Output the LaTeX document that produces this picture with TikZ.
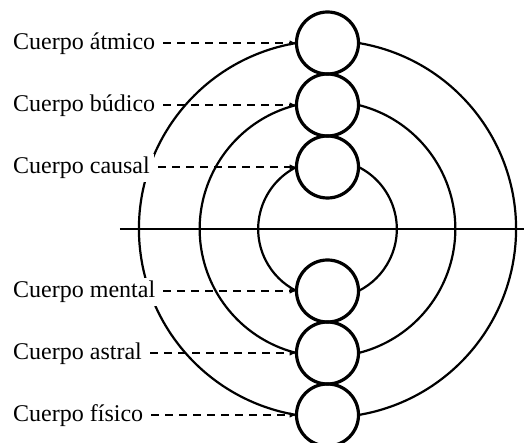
\documentclass[tikz,border=0pt]{standalone}
\usepackage{fontspec}
\setmainfont{Liberation Serif}
\usetikzlibrary{arrows.meta,positioning,calc}

\begin{document}
\begin{tikzpicture}[x=1pt,y=1pt,>={Latex[length=7pt,width=5.5pt]},
          ring/.style={draw,circle,line width=3.2pt,minimum size=62pt,
                       inner sep=0pt,outer sep=0pt},
          body/.style={fill=white,inner xsep=4pt,inner ysep=3pt,anchor=base west,
                       font=\fontsize{24}{26}\selectfont},
          leader/.style={->,line width=1.6pt,dash pattern=on 8pt off 6pt,
                         shorten <=4pt},
          orbit/.style={line width=2.2pt}]
        \useasboundingbox (-327.5,-214) rectangle (196.5,229);
        \node[ring] (causal) at (0,62) {};
        \node[ring,above=0pt of causal] (budico) {};
        \node[ring,above=0pt of budico] (atmico) {};
        \node[ring] (mental) at (0,-62) {};
        \node[ring,below=0pt of mental] (astral) {};
        \node[ring,below=0pt of astral] (fisico) {};
        % concentric orbits, broken by the small circles
        \foreach \up in {causal,budico,atmico}{
          \draw[orbit] let \p1=(\up.west), \n1={atan2(\y1,\x1)}, \n2={veclen(\x1,\y1)} in
            (\p1) arc[start angle=\n1,end angle=360-\n1,radius=\n2];
          \draw[orbit] let \p1=(\up.east), \n1={atan2(\y1,\x1)}, \n2={veclen(\x1,\y1)} in
            (\p1) arc[start angle=\n1,end angle=-\n1,radius=\n2];
        }
        \coordinate (axis-l) at (-207.5,0);
        \coordinate (axis-r) at (196.5,0);
        \draw[line width=2.6pt] (axis-l) -- (axis-r);
        \node[body] (l-atmico) at (-318.5,179) {Cuerpo átmico};
        \node[body] (l-budico) at (-318.5,117) {Cuerpo búdico};
        \node[body] (l-causal) at (-318.5,55) {Cuerpo causal};
        \node[body] (l-mental) at (-318.5,-69) {Cuerpo mental};
        \node[body] (l-astral) at (-318.5,-131) {Cuerpo astral};
        \node[body] (l-fisico) at (-318.5,-193) {Cuerpo físico};
        \foreach \b in {atmico,budico,causal,mental,astral,fisico}
          \draw[leader] (l-\b.east |- \b.west) -- (\b.west);
      \end{tikzpicture}
\end{document}
